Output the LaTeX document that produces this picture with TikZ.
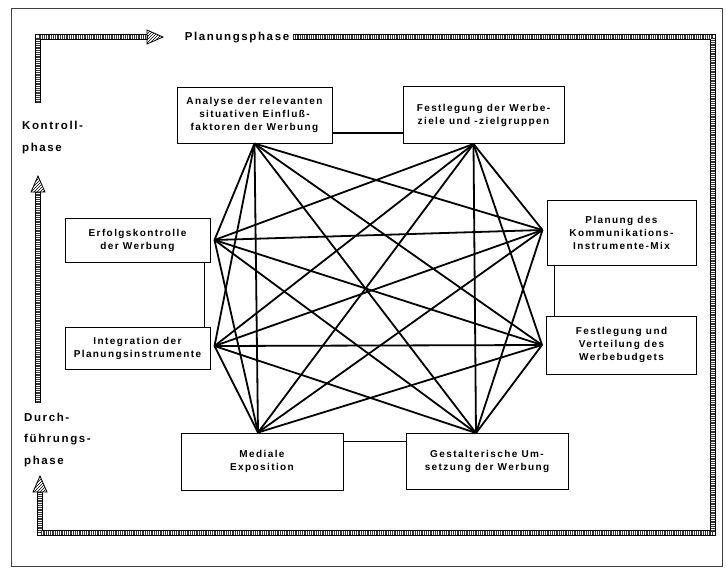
\documentclass[tikz,border=0pt]{standalone}
\usepackage{fontspec}
\setmainfont{Liberation Sans}[LetterSpace=14]
\usetikzlibrary{positioning,patterns}

\begin{document}
\begin{tikzpicture}[x=1pt,y=-1pt,>=stealth,
    box/.style={draw,line width=1pt,align=center,inner sep=2pt,
                font=\fontsize{10}{13}\selectfont\bfseries},
    link/.style={line width=1.8pt},
    boxlink/.style={line width=1.3pt},
    band/.style={line width=6pt,postaction={draw,white,line width=4pt},
                 postaction={draw,black!80,line width=4pt,dash pattern=on 0.6pt off 1.2pt}},
    bandhead/.style={draw,line width=0.8pt,pattern=north east lines},
    phase/.style={inner sep=0pt,align=left,
                  font=\fontsize{11.5}{21.5}\selectfont\bfseries}]

      \useasboundingbox (0,0) rectangle (726,568);
      \draw[line width=0.8pt,black!75] (11,8) rectangle (722,566);

      % the eight steps
      \node[box,minimum width=155pt,minimum height=56pt] (analyse) at (254.5,115)
        {Analyse der relevanten\\situativen Einfluß-\\faktoren der Werbung};
      \node[box,minimum width=161pt,minimum height=57pt] (ziele) [right=70pt of analyse]
        {Festlegung der Werbe-\\ziele und -zielgruppen};
      \node[box,minimum width=145pt,minimum height=44pt] (erfolg) at (137.5,240)
        {Erfolgskontrolle\\der Werbung};
      \node[box,minimum width=145pt,minimum height=42pt] (integration) [below=64pt of erfolg]
        {Integration der\\Planungsinstrumente};
      \node[box,minimum width=149pt,minimum height=65pt] (planung) at (621.5,232.5)
        {Planung des\\Kommunikations-\\Instrumente-Mix};
      \node[box,minimum width=150pt,minimum height=58pt] (budget) [below=50pt of planung]
        {Festlegung und\\Verteilung des\\Werbebudgets};
      \node[box,minimum width=162pt,minimum height=57pt] (medial) at (262,461.5)
        {Mediale\\Exposition};
      \node[box,minimum width=162pt,minimum height=56pt] (umsetzung) [right=62pt of medial]
        {Gestalterische Um-\\setzung der Werbung};

      % phases
      \node[phase] (planphase) at (237,38) {Planungsphase};
      \node[phase,anchor=west] (kontroll) at (22,137.5) {Kontroll-\\phase};
      \node[phase,anchor=west] (durch) at (24,440) {Durch-\\führungs-\\phase};

      % meeting points of the lines
      \coordinate (a) at (analyse.south);
      \coordinate (b) at ([xshift=-10pt]ziele.south);
      \coordinate (c) at ([xshift=4pt]erfolg.east);
      \coordinate (d) at ([xshift=4pt,yshift=2pt]integration.east);
      \coordinate (e) at ([xshift=-4pt,yshift=2.5pt]planung.west);
      \coordinate (f) at ([xshift=-4pt]budget.west);
      \coordinate (g) at ([xshift=-4pt]medial.north);
      \coordinate (h) at ([xshift=-11pt]umsetzung.north);

      \path[link]
        (a) edge (c) edge (d) edge (e) edge (f) edge (g) edge (h)
        (b) edge (c) edge (d) edge (e) edge (f) edge (g) edge (h)
        (c) edge (e) edge (f) edge (g) edge (h)
        (d) edge (e) edge (f) edge (g) edge (h)
        (e) edge (g) edge (h)
        (f) edge (g) edge (h);

      % neighbours joined by plain lines
      \draw[boxlink] ([yshift=-18pt]analyse.east) -- ([yshift=-18pt]analyse.east -| ziele.west);
      \draw[boxlink] ([xshift=-6pt]erfolg.south east) -- ([xshift=-6pt]erfolg.south east |- integration.north);
      \draw[boxlink] ([xshift=8pt]planung.south west) -- ([xshift=8pt]planung.south west |- budget.north);
      \draw[boxlink] ([yshift=-9pt]medial.north east) -- ([yshift=-9pt]medial.north east -| umsetzung.west);

      % the cycle of phases
      \coordinate (pe) at (293,37);
      \coordinate (or) at (713,37);
      \coordinate (ur) at (713,533);
      \coordinate (ul) at (40,533);
      \coordinate (h1) at (40,492);
      \coordinate (m1) at (38,403);
      \coordinate (h2) at (38,192);
      \coordinate (k1) at (38,103);
      \coordinate (ol) at (38,37);
      \coordinate (h3) at (147,37);

      \draw[band] (pe) -- (or) -- (ur) -- (ul) -- (h1);
      \draw[bandhead] (33,492) -- (40,476) -- (47,492) -- cycle;
      \draw[band] (m1) -- (h2);
      \draw[bandhead] (31,192) -- (38,176) -- (45,192) -- cycle;
      \draw[band] (k1) -- (ol) -- (h3);
      \draw[bandhead] (147,30) -- (163,37) -- (147,44) -- cycle;
\end{tikzpicture}
\end{document}
